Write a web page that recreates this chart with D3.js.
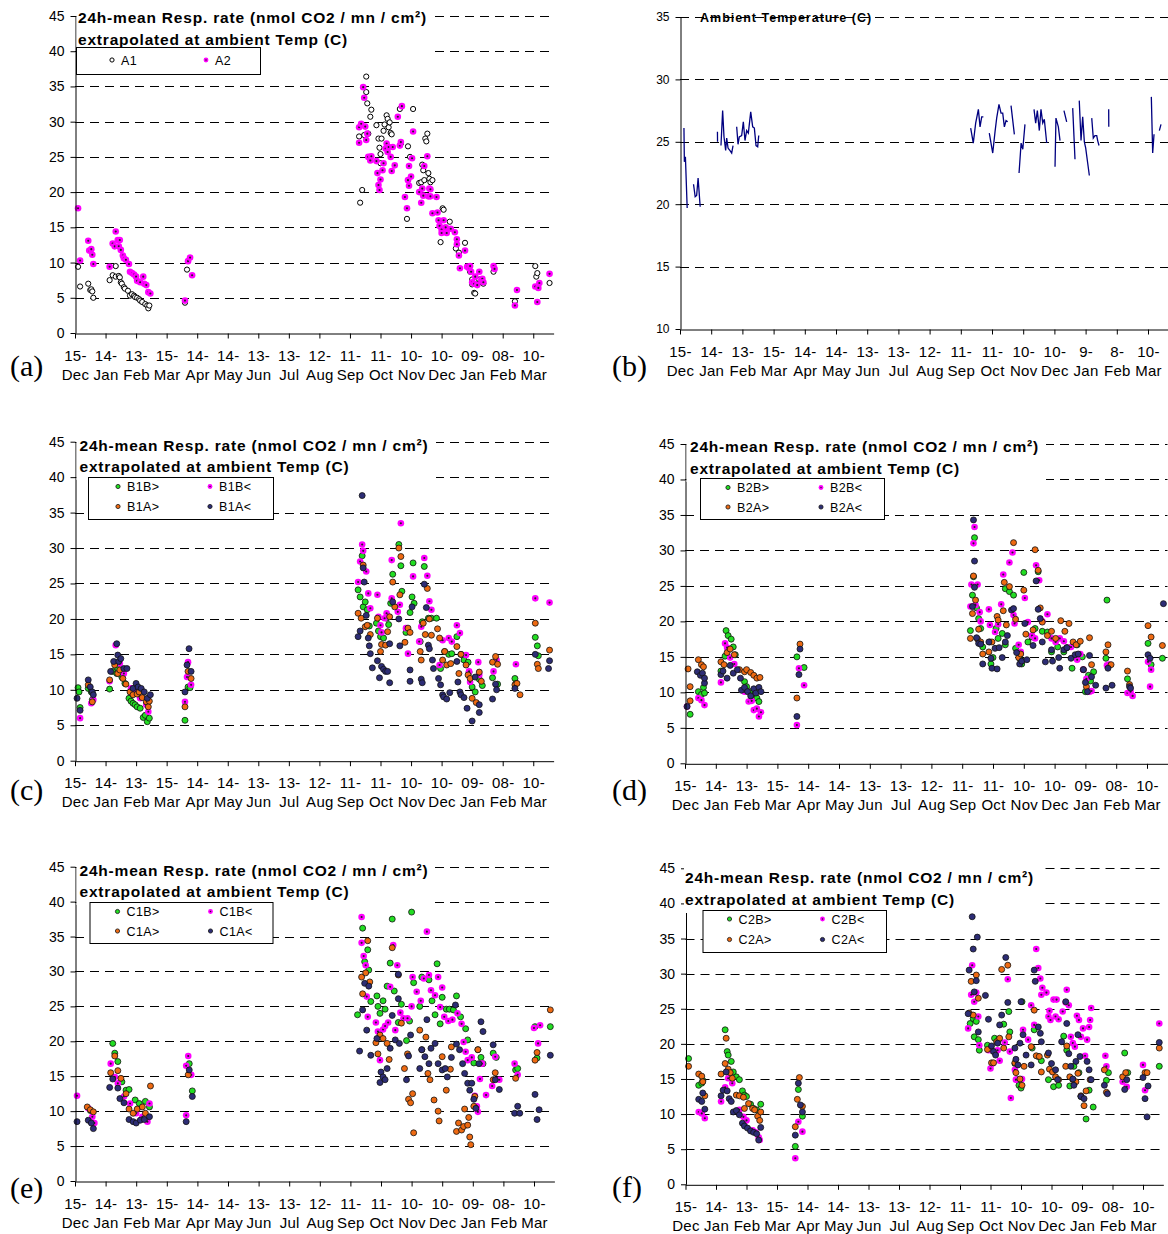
<!DOCTYPE html>
<html>
<head>
<meta charset="utf-8">
<script src="https://cdn.jsdelivr.net/npm/d3@7"></script>
<style>
  body { margin: 0; background: #fff; }
  svg { display: block; }
  text { font-family: Arial, "Liberation Sans", sans-serif; fill: #000; }
</style>
</head>
<body>
<svg id="chart" width="1168" height="1234"></svg>
<script>
// days counted from 15-Dec-2004, values in nmol CO2 / mn / cm2
var a1 = [[3,9.4],[5,6.6],[13,7.0],[15,6.1],[16,6.2],[17,5.9],[18,5.0],[34,7.5],[37,8.2],[40,9.5],[40,8.0],[43,8.1],[44,7.9],[45,7.2],[46,7.0],[48,6.5],[49,6.3],[52,6.0],[54,5.3],[56,5.5],[58,5.3],[59,5.1],[61,5.0],[63,4.8],[64,4.6],[66,4.4],[69,4.1],[71,3.9],[72,3.5],[73,3.9],[108,4.3],[110,9.0],[279,27.9],[280,18.5],[282,20.3],[284,28.1],[286,36.4],[286,34.2],[287,32.6],[288,28.3],[290,30.7],[291,31.7],[296,29.5],[298,27.6],[299,26.3],[300,25.4],[300,24.1],[301,27.6],[303,28.7],[304,29.6],[306,30.9],[307,30.4],[308,29.2],[309,29.9],[310,28.4],[311,28.2],[319,31.8],[320,26.9],[326,16.2],[327,26.5],[329,25.0],[332,31.8],[338,21.3],[340,21.4],[341,23.9],[342,23.1],[343,21.7],[344,27.6],[345,27.2],[346,28.3],[347,22.7],[348,21.9],[349,21.4],[351,21.7],[359,12.9],[361,17.7],[362,17.5],[368,15.8],[374,12.0],[377,11.4],[383,12.8],[388,8.7],[390,7.6],[390,6.9],[392,5.7],[393,5.6],[396,7.1],[397,7.6],[399,7.2],[401,7.0],[411,8.7],[432,4.5],[452,9.5],[453,8.0],[454,8.5],[466,7.1]];
var a2 = [[3,17.7],[5,10.3],[13,13.1],[14,11.7],[16,11.9],[17,11.1],[18,9.8],[34,9.4],[37,12.7],[40,14.4],[39,12.3],[42,13.2],[44,13.2],[43,12.3],[45,11.8],[47,11.0],[48,10.6],[50,10.4],[53,9.8],[54,8.7],[56,8.5],[58,8.3],[60,8.0],[61,7.4],[64,7.2],[67,8.0],[68,7.0],[70,6.8],[72,5.8],[74,5.6],[108,4.6],[111,10.2],[113,10.7],[115,8.2],[279,27.0],[279,29.2],[281,29.7],[283,34.9],[284,33.4],[285,29.3],[286,27.4],[287,28.3],[288,25.0],[290,24.5],[291,25.1],[296,24.4],[297,22.7],[298,21.0],[299,20.3],[300,21.8],[302,23.1],[303,24.1],[305,26.2],[306,26.9],[307,25.7],[308,26.4],[310,25.0],[311,23.0],[312,26.4],[314,23.8],[317,30.7],[319,26.6],[320,27.1],[321,32.2],[324,19.3],[326,17.7],[327,21.7],[328,23.7],[328,20.9],[330,22.2],[331,24.8],[332,28.6],[338,20.0],[340,18.5],[341,20.5],[342,19.5],[343,23.7],[346,25.1],[347,19.4],[348,20.5],[349,20.4],[349,19.4],[355,19.3],[351,17.0],[356,17.1],[357,16.0],[358,15.2],[360,14.7],[360,14.2],[362,16.0],[364,15.0],[365,14.2],[369,14.8],[373,14.3],[375,13.3],[375,12.6],[377,11.0],[378,9.2],[383,11.7],[385,9.4],[387,9.2],[388,9.5],[389,8.7],[390,7.2],[392,7.0],[393,8.0],[395,6.8],[397,8.7],[399,7.5],[400,7.7],[401,7.2],[411,9.5],[412,9.1],[432,3.9],[434,6.1],[452,6.6],[454,4.4],[455,6.4],[456,7.1],[466,8.4]];

// ambient temperature (C), null = gap in record
var tempC = [[3.8,26.1],[4.2,23.4],[5.2,23.8],[6.9,19.7],[7,null],[13,21.6],[14.6,20.6],[16,20.7],[17.4,22.1],[19.4,19.8],[20,null],[36,25.8],[36.1,25.0],[37,null],[39.4,24.7],[41,27.5],[42.3,25.4],[43.9,24.3],[44.9,25.3],[46.2,24.5],[48.1,24.3],[49.7,24.1],[51,24.7],[52,null],[54.5,26.2],[55.8,24.8],[57,25.4],[59.3,25.5],[60.9,26.6],[62.5,25.1],[64.1,25.9],[65.7,25.7],[68,27.4],[69.9,26.2],[71.5,26.1],[73.1,24.7],[74.7,24.6],[75.7,25.5],[76,null],[279.5,26.1],[282,24.9],[284.3,26.5],[286.9,27.6],[288.5,26.2],[290.1,27.0],[291.7,27.0],[292,null],[297.4,25.7],[300.7,24.1],[302.9,25.8],[304.5,26.9],[306.7,28.0],[308.7,27.3],[310.3,27.3],[311.9,26.2],[313.5,26.7],[315.1,26.6],[316,null],[318.3,27.9],[321.5,25.6],[322,null],[326,22.5],[328,24.9],[329.6,24.4],[331.7,26.4],[332,null],[340.4,27.6],[342,26.5],[343.6,27.5],[345.5,25.9],[347.1,27.6],[348.8,26.5],[350.3,26.8],[352.6,24.9],[353,null],[360.6,23.0],[361.5,26.9],[363.8,26.2],[365.4,25.1],[366,null],[369.2,27.5],[371.8,26.6],[372,null],[377.6,27.7],[379.8,23.6],[380,null],[383.9,28.3],[385.6,25.1],[387.2,27.0],[388.8,25.0],[390.1,24.5],[392,23.3],[393.6,22.3],[394,null],[395.9,26.9],[397.4,25.3],[399,25.5],[400.7,25.5],[401.6,25.1],[402.9,24.7],[403,null],[412.2,27.6],[412.3,26.2],[413,null],[453.2,28.6],[454.5,24.1],[455.8,25.6],[456,null],[460.9,25.9],[462.5,26.4]];

var b1bGt = [[3,10.3],[4,9.7],[5,7.5],[13,10.2],[16,9.7],[17,8.6],[34,10.1],[37,12.6],[41,12.3],[42,13.0],[46,11.8],[49,10.9],[53,8.8],[55,8.4],[57,8.1],[59,7.9],[61,7.6],[64,7.4],[67,6.1],[69,6.4],[71,5.5],[73,6.0],[108,5.7],[111,10.4],[113,10.3],[278,24.1],[280,23.1],[282,28.9],[283,21.7],[285,22.4],[287,21.3],[289,19.0],[296,19.4],[298,18.3],[300,17.5],[303,17.3],[306,20.1],[308,19.2],[310,22.2],[312,26.3],[318,30.5],[320,27.5],[321,23.9],[325,18.1],[329,20.9],[331,23.1],[332,27.9],[333,22.2],[339,16.8],[341,19.6],[343,27.4],[347,20.1],[350,20.1],[355,20.1],[359,13.0],[363,15.4],[367,15.0],[370,15.1],[375,17.5],[379,15.0],[382,14.2],[386,13.9],[387,12.5],[390,10.4],[393,9.7],[397,11.5],[400,10.6],[410,11.7],[415,10.8],[432,11.6],[433,10.9],[452,17.4],[454,16.2],[455,14.8]];
var b1bLt = [[5,6.0],[16,8.1],[18,8.6],[34,11.2],[40,16.3],[44,13.7],[48,12.3],[55,10.2],[60,9.7],[64,8.8],[70,7.9],[72,6.9],[108,8.3],[110,11.8],[111,13.9],[114,10.7],[278,25.2],[280,28.1],[282,30.5],[283,29.6],[286,26.7],[288,23.6],[290,21.5],[297,23.4],[298,20.3],[300,19.1],[301,18.1],[304,20.1],[306,20.8],[311,22.9],[311,28.3],[317,21.0],[319,22.0],[320,33.5],[325,18.7],[327,15.1],[332,26.0],[338,16.8],[340,18.9],[343,28.6],[346,26.1],[348,22.5],[350,21.3],[358,13.5],[361,17.0],[367,17.3],[370,16.8],[375,19.1],[378,18.0],[384,14.9],[387,12.6],[388,11.1],[396,13.9],[397,12.1],[411,12.6],[414,14.2],[433,13.6],[452,22.9],[466,22.3]];
var b1aGt = [[13,10.7],[17,8.3],[34,11.4],[39,13.5],[42,12.3],[44,12.8],[47,11.6],[50,10.8],[54,9.7],[57,9.3],[61,9.4],[63,9.7],[66,8.9],[70,8.3],[72,7.6],[73,8.4],[108,7.6],[111,12.6],[114,11.6],[278,20.8],[281,20.1],[283,27.6],[285,18.9],[287,19.1],[290,17.8],[297,20.1],[300,15.4],[301,16.4],[305,16.3],[307,18.2],[309,20.3],[312,25.2],[314,21.7],[318,30.0],[320,28.8],[319,23.4],[324,16.7],[327,18.7],[329,18.1],[339,15.4],[340,14.2],[342,19.4],[344,17.8],[346,24.3],[348,20.0],[350,17.7],[356,18.6],[358,17.3],[361,14.2],[363,15.4],[365,13.5],[369,13.7],[375,16.1],[377,12.3],[379,15.0],[384,13.5],[386,12.1],[388,11.6],[390,8.8],[394,8.2],[397,12.5],[399,11.2],[410,13.9],[413,14.7],[415,13.6],[432,10.7],[434,10.9],[437,9.3],[452,19.4],[454,13.6],[455,13.0],[466,15.6]];
var b1aLt = [[2,8.8],[5,7.1],[13,11.4],[15,10.4],[17,9.7],[18,9.3],[35,12.6],[38,14.0],[41,16.5],[42,14.9],[43,14.0],[45,14.4],[48,13.0],[51,13.0],[57,10.2],[60,10.9],[62,10.4],[65,10.2],[68,9.7],[71,8.8],[74,9.3],[108,9.7],[110,13.5],[112,15.8],[114,12.6],[278,17.5],[280,18.3],[282,37.4],[283,27.2],[284,25.2],[286,20.5],[288,17.3],[289,16.2],[290,15.1],[292,13.1],[297,14.1],[299,11.7],[301,13.3],[303,12.9],[305,12.6],[307,12.6],[309,16.5],[309,11.0],[312,22.4],[318,20.0],[319,16.2],[329,12.8],[329,11.2],[331,21.7],[340,11.5],[341,11.0],[343,24.9],[345,21.6],[347,16.3],[348,15.8],[351,14.2],[352,13.0],[357,11.6],[359,10.7],[361,9.3],[362,9.0],[365,8.7],[368,9.6],[375,14.0],[376,11.1],[378,9.7],[379,9.3],[382,8.9],[385,7.4],[390,5.6],[393,11.8],[397,7.9],[397,6.8],[410,8.7],[413,10.8],[414,10.0],[432,10.2],[452,15.0],[466,14.1],[465,13.0]];

var b2bGt = [[5,6.9],[13,10.1],[16,9.7],[18,10.7],[19,9.9],[35,13.0],[39,15.1],[40,18.7],[42,18.0],[45,17.5],[47,16.4],[49,15.3],[58,11.5],[60,10.8],[64,10.1],[67,9.6],[70,9.2],[72,8.7],[109,15.0],[116,13.5],[278,18.7],[280,23.7],[281,26.3],[282,31.8],[284,21.9],[286,20.4],[288,19.0],[290,16.4],[297,17.1],[298,14.0],[300,14.9],[303,19.0],[305,17.6],[309,18.3],[312,24.6],[312,16.7],[316,24.2],[320,23.7],[322,16.2],[326,14.8],[328,14.0],[330,26.9],[334,17.1],[338,17.8],[341,19.0],[344,27.0],[348,18.6],[353,18.5],[357,15.7],[363,16.4],[369,15.7],[372,16.3],[377,13.4],[382,16.7],[387,15.0],[390,10.1],[393,12.4],[395,11.6],[398,12.9],[410,14.8],[411,23.0],[431,11.9],[451,16.9],[454,13.9],[465,14.8]];
var b2bLt = [[2,8.0],[13,9.2],[16,8.9],[19,8.2],[35,11.4],[39,16.9],[41,16.3],[44,14.9],[48,14.0],[58,10.1],[62,8.7],[65,8.8],[67,7.5],[70,7.7],[72,6.6],[74,7.2],[109,5.4],[111,13.4],[116,11.0],[278,22.1],[279,25.2],[281,31.0],[282,33.3],[283,22.3],[285,25.2],[287,21.3],[288,20.0],[296,21.7],[297,19.5],[302,18.5],[305,19.6],[308,22.4],[310,26.6],[316,28.3],[319,29.7],[320,20.9],[321,19.7],[325,16.7],[327,15.7],[331,23.3],[334,19.9],[338,18.0],[341,17.6],[342,27.9],[345,25.8],[348,20.0],[353,21.0],[357,17.6],[361,17.1],[365,17.6],[369,17.2],[376,16.4],[382,14.6],[385,15.4],[388,13.2],[391,11.9],[394,10.1],[396,10.2],[411,13.8],[413,13.9],[431,9.9],[434,10.1],[436,9.5],[451,14.3],[453,10.8],[454,13.2]];
var b2aGt = [[3,13.3],[5,10.8],[5,8.8],[13,14.6],[16,13.9],[18,13.6],[35,14.3],[38,13.9],[41,15.6],[44,16.1],[48,15.3],[53,13.2],[58,12.9],[60,13.2],[64,12.8],[67,12.4],[70,12.0],[73,12.1],[109,9.2],[112,16.8],[278,17.6],[280,21.1],[281,26.4],[283,23.0],[285,17.5],[286,18.9],[288,17.1],[290,15.4],[296,15.7],[299,17.1],[304,20.7],[305,20.2],[310,21.5],[311,25.5],[313,19.5],[316,24.9],[320,31.1],[322,20.3],[325,14.9],[327,15.4],[330,24.4],[332,18.2],[339,18.8],[341,30.1],[344,27.2],[346,21.9],[348,19.9],[353,18.0],[357,18.6],[361,17.6],[366,20.1],[370,18.6],[374,19.7],[378,17.1],[381,16.7],[385,17.2],[388,13.2],[391,10.8],[394,17.7],[396,13.9],[410,15.7],[412,16.7],[415,13.9],[431,13.0],[433,11.1],[451,19.4],[454,17.8],[465,16.6]];
var b2aLt = [[2,8.0],[12,12.9],[15,12.4],[17,12.7],[19,11.3],[19,12.0],[35,12.5],[37,13.0],[41,12.0],[44,13.8],[47,12.7],[51,13.2],[54,12.0],[55,10.3],[58,10.7],[61,10.1],[64,9.5],[67,10.5],[69,9.9],[72,10.7],[74,10.1],[109,6.6],[111,12.5],[112,16.1],[280,22.1],[281,34.3],[282,28.5],[282,24.8],[284,17.7],[286,16.9],[288,16.8],[290,14.0],[296,17.1],[298,14.8],[299,13.4],[302,16.2],[304,13.3],[306,16.3],[309,14.9],[312,17.1],[314,18.0],[318,21.6],[320,21.8],[323,15.6],[326,14.0],[328,14.4],[331,19.7],[333,14.6],[339,16.6],[342,25.7],[344,21.7],[346,20.4],[348,17.1],[351,14.3],[357,16.0],[358,14.4],[364,14.9],[365,13.4],[369,16.0],[372,16.3],[376,14.8],[380,15.3],[383,15.4],[388,13.2],[390,11.4],[392,10.1],[394,15.2],[396,12.2],[400,11.0],[410,10.6],[412,13.4],[416,11.0],[433,10.8],[434,10.6],[451,15.3],[453,14.8],[466,22.5]];

var c1bGt = [[15,10.1],[37,19.7],[39,18.3],[42,17.1],[46,14.2],[50,13.0],[53,13.1],[59,11.6],[63,11.1],[69,11.4],[73,10.6],[112,16.8],[115,12.9],[277,23.8],[282,36.2],[284,31.4],[287,33.1],[288,30.2],[290,25.7],[296,26.5],[297,25.0],[299,24.0],[302,25.8],[304,24.6],[306,27.9],[309,31.2],[311,37.5],[313,27.2],[317,22.7],[320,25.3],[325,20.1],[328,22.9],[330,38.5],[332,28.4],[338,25.0],[340,29.2],[347,28.8],[350,25.8],[353,23.8],[355,31.1],[358,22.5],[360,26.3],[364,24.6],[367,24.6],[371,24.5],[374,26.5],[378,23.5],[383,21.8],[385,20.2],[391,16.9],[395,18.8],[398,17.7],[400,16.8],[410,18.3],[413,17.7],[432,15.9],[434,16.1],[451,22.1],[453,17.6],[466,22.1]];
var c1bLt = [[2,12.2],[13,10.4],[17,9.2],[19,8.3],[35,16.8],[39,14.9],[42,14.0],[48,12.1],[54,11.1],[60,9.7],[66,9.2],[71,8.5],[73,11.1],[109,16.5],[111,17.9],[114,15.2],[109,9.4],[281,37.8],[281,34.1],[283,32.2],[285,30.9],[286,26.4],[287,23.5],[295,22.7],[297,21.4],[299,17.3],[302,21.7],[304,22.2],[307,22.7],[309,27.8],[312,33.8],[314,21.6],[316,30.9],[319,24.1],[322,23.3],[326,23.3],[330,25.0],[331,29.2],[335,27.1],[339,25.8],[342,29.0],[345,35.7],[347,29.5],[349,27.3],[353,26.6],[356,29.2],[358,24.9],[360,27.7],[362,23.5],[366,22.9],[370,23.1],[375,24.0],[379,22.5],[381,19.9],[383,18.5],[385,17.3],[389,17.7],[392,12.2],[394,10.7],[395,9.9],[397,14.6],[399,16.8],[403,12.3],[409,13.6],[412,17.8],[416,14.5],[431,16.8],[434,15.2],[450,21.9],[454,19.7],[456,22.3]];
var c1aGt = [[12,10.6],[15,10.2],[18,9.9],[35,15.5],[39,17.9],[42,15.8],[45,14.7],[50,12.5],[53,10.3],[57,9.7],[61,10.3],[66,10.6],[69,9.7],[74,13.6],[111,15.2],[281,29.2],[282,26.8],[285,29.8],[287,34.4],[289,28.5],[295,19.8],[297,18.2],[299,20.9],[302,20.4],[306,19.7],[308,17.4],[311,33.4],[317,29.5],[320,22.6],[323,16.1],[326,18.2],[327,11.7],[329,11.2],[331,12.5],[332,6.9],[338,21.6],[340,18.8],[344,20.6],[346,15.4],[348,14.5],[352,11.6],[356,10.0],[357,8.6],[360,17.8],[364,13.0],[368,16.0],[369,19.2],[374,7.1],[376,8.3],[379,7.3],[381,7.8],[382,10.3],[385,8.0],[386,9.1],[387,6.3],[388,5.2],[391,10.7],[392,12.1],[395,18.8],[410,14.5],[412,15.5],[432,14.7],[451,17.3],[453,18.4],[466,24.5]];
var c1aLt = [[2,8.5],[13,8.7],[16,8.3],[18,7.5],[34,13.4],[37,14.6],[42,13.3],[44,11.8],[48,11.2],[53,8.8],[57,8.5],[60,8.3],[64,8.7],[68,8.8],[73,9.2],[109,8.5],[112,15.9],[115,12.1],[279,18.6],[282,24.5],[284,28.3],[286,21.6],[288,27.9],[290,18.0],[296,20.4],[299,14.1],[300,15.6],[302,14.9],[304,14.5],[306,16.1],[309,19.0],[311,23.7],[314,20.2],[317,29.6],[317,26.1],[318,19.7],[325,14.5],[327,17.9],[329,20.9],[338,16.1],[340,18.8],[343,17.8],[345,23.1],[347,16.8],[349,19.0],[353,19.7],[356,16.8],[360,15.9],[363,16.1],[365,14.9],[369,17.7],[373,25.2],[374,19.6],[377,18.8],[380,16.8],[382,15.4],[385,14.0],[387,13.0],[389,14.0],[391,11.7],[393,10.4],[396,16.8],[398,22.8],[400,21.4],[410,19.5],[412,14.5],[416,13.1],[431,9.7],[434,10.7],[436,9.7],[451,12.4],[453,8.8],[455,10.2],[466,18.0]];

var c2bGt = [[3,17.9],[13,14.1],[16,14.4],[17,14.8],[39,22.0],[41,18.9],[42,18.4],[45,17.5],[47,16.0],[50,15.3],[53,14.9],[56,13.3],[58,12.7],[60,12.5],[64,11.4],[67,10.8],[70,10.6],[74,11.4],[108,5.4],[111,13.5],[115,9.7],[280,22.9],[283,23.6],[284,21.0],[286,23.2],[288,20.6],[289,19.1],[297,19.8],[301,19.1],[304,20.8],[308,20.6],[313,22.8],[318,24.6],[319,21.7],[324,17.2],[326,14.9],[328,14.1],[330,13.7],[331,26.0],[341,19.4],[343,22.0],[347,18.2],[350,17.6],[357,14.9],[362,13.9],[367,14.1],[372,21.1],[375,19.1],[378,14.0],[382,16.8],[387,15.9],[389,12.5],[394,9.3],[397,13.4],[401,11.0],[414,14.8],[416,15.9],[432,18.7],[435,15.9],[466,16.8]];
var c2bLt = [[13,10.3],[16,10.1],[19,9.4],[35,11.8],[39,13.8],[42,15.1],[46,14.4],[53,10.6],[57,9.6],[60,9.1],[66,7.7],[69,7.4],[72,6.7],[73,6.3],[108,3.7],[111,8.9],[115,7.5],[278,22.2],[281,27.0],[282,31.2],[284,26.0],[286,27.3],[288,23.9],[289,19.8],[298,19.1],[300,16.5],[302,17.2],[305,18.7],[307,19.1],[309,17.6],[314,20.2],[317,29.2],[319,18.9],[320,12.3],[324,16.3],[325,14.9],[331,15.0],[332,22.0],[337,20.6],[340,25.5],[343,22.7],[345,33.5],[347,30.8],[349,29.3],[350,27.0],[351,28.0],[355,27.3],[357,23.9],[358,24.7],[359,23.4],[362,26.3],[364,23.9],[365,26.3],[367,23.5],[371,24.6],[374,25.9],[375,27.7],[377,25.5],[379,21.0],[381,20.1],[383,19.6],[385,24.0],[387,23.4],[389,21.0],[391,22.2],[393,18.3],[395,20.6],[397,22.4],[399,25.1],[398,23.4],[413,18.3],[414,16.8],[430,14.6],[434,13.9],[450,17.0],[452,13.4],[466,22.9]];
var c2aGt = [[3,16.8],[13,15.7],[16,15.4],[17,14.6],[19,12.6],[35,15.7],[39,17.2],[40,20.8],[42,16.4],[44,15.9],[46,15.1],[50,12.7],[53,12.6],[57,12.4],[58,10.8],[62,11.5],[66,10.8],[68,10.6],[71,9.7],[73,9.1],[74,10.3],[108,8.2],[110,12.1],[112,15.2],[115,11.1],[279,24.4],[281,28.9],[283,24.1],[286,29.8],[288,26.5],[297,19.2],[301,17.3],[303,17.3],[306,20.3],[309,20.8],[313,19.4],[311,30.6],[317,31.2],[318,21.0],[324,17.3],[325,15.9],[329,15.0],[331,14.1],[333,16.8],[340,19.6],[343,24.8],[345,18.3],[348,18.2],[350,16.0],[356,18.4],[358,16.4],[361,16.0],[364,15.3],[367,14.9],[374,16.8],[375,19.7],[378,15.3],[381,14.9],[384,14.6],[386,15.8],[389,12.6],[392,11.2],[394,13.3],[398,14.9],[412,16.3],[414,13.1],[430,15.3],[433,15.9],[452,15.9],[454,15.9],[466,19.4]];
var c2aLt = [[13,12.1],[16,11.8],[17,13.0],[19,10.7],[35,12.6],[37,13.4],[40,16.0],[41,13.3],[43,12.2],[45,11.8],[47,10.3],[50,10.5],[53,9.9],[56,8.7],[58,8.3],[61,8.0],[64,7.6],[67,7.4],[70,7.2],[72,6.3],[74,8.1],[108,7.0],[111,14.4],[113,11.3],[115,10.3],[278,24.3],[279,30.5],[282,38.1],[283,33.5],[284,27.4],[286,29.0],[287,35.2],[288,21.7],[295,26.9],[298,23.5],[301,19.7],[303,18.9],[305,18.4],[307,20.1],[309,22.7],[311,24.1],[315,32.3],[317,25.9],[324,19.4],[325,17.8],[327,17.0],[329,20.1],[330,26.0],[332,21.3],[335,18.4],[340,17.0],[343,30.5],[344,28.9],[347,22.4],[349,21.5],[350,20.3],[357,18.7],[360,17.2],[364,16.3],[366,14.9],[370,20.3],[374,26.0],[375,22.9],[377,18.6],[379,16.8],[381,15.0],[382,14.1],[384,17.5],[386,21.3],[388,18.2],[389,12.5],[392,12.2],[395,17.5],[397,16.3],[399,14.9],[412,14.1],[415,12.9],[432,13.5],[434,14.9],[450,15.2],[452,12.2],[454,9.6],[455,14.0],[466,20.2]];

var respTicks = [0, 5, 10, 15, 20, 25, 30, 35, 40, 45];
var tempTicks = [10, 15, 20, 25, 30, 35];
var titleLines = ["24h-mean Resp. rate (nmol CO2 / mn / cm\u00b2)", "extrapolated at ambient Temp (C)"];

var svg = d3.select("#chart");
var start = Date.UTC(2004, 11, 15), DAY = 864e5;
function toDate(d) { return new Date(start + d * DAY); }
var tickDates = d3.range(0, 451, 30).map(toDate);

var colors = { green: "#22dd22", mag: "#ff00ff", orange: "#ee6a12", navy: "#2d2d75" };

function drawDot(sel, kind, r) {
    if (kind === "open") {
        sel.append("circle").attr("r", r).attr("fill", "#fff").attr("stroke", "#000").attr("stroke-width", 1);
    } else if (kind === "mag") {
        sel.append("circle").attr("r", r + 0.3).attr("fill", colors.mag);
        sel.append("circle").attr("r", r * 0.35).attr("fill", "#222");
    } else {
        sel.append("circle").attr("r", r).attr("fill", colors[kind]).attr("stroke", "#111").attr("stroke-width", 0.8);
    }
}

function panel(p) {
    var g = svg.append("g");
    var xr = p.left + p.step * 470 / 30;
    var x = d3.scaleUtc().domain([toDate(0), toDate(470)]).range([p.left, xr]);
    var y = d3.scaleLinear().domain(p.domain).range([p.bottom, p.top]);

    // dashed grid
    g.append("g").selectAll("line")
        .data(p.ticks.slice(1))
        .join("line")
        .attr("x1", p.left).attr("x2", xr)
        .attr("y1", function(d) { return Math.round(y(d)) + 0.5; })
        .attr("y2", function(d) { return Math.round(y(d)) + 0.5; })
        .attr("stroke", "#000")
        .attr("stroke-dasharray", "9,6");

    // data
    if (p.temp) {
        var line = d3.line()
            .defined(function(d) { return d[1] != null; })
            .x(function(d) { return x(toDate(d[0])); })
            .y(function(d) { return y(d[1]); });
        g.append("path").datum(p.temp)
            .attr("d", line)
            .attr("fill", "none")
            .attr("stroke", "#000080")
            .attr("stroke-width", 1.3);
    }
    (p.series || []).forEach(function(s) {
        g.append("g").selectAll("g")
            .data(s.data)
            .join("g")
            .attr("transform", function(d) { return "translate(" + x(toDate(d[0])) + "," + y(d[1]) + ")"; })
            .each(function() { drawDot(d3.select(this), s.kind, s.kind === "open" ? 2.6 : 3); });
    });

    // axes
    var yAxis = g.append("g")
        .attr("transform", "translate(" + (p.left + 0.5) + ",0)")
        .call(d3.axisLeft(y).tickValues(p.ticks).tickSize(5).tickSizeOuter(0).tickPadding(6));
    yAxis.attr("font-family", null).attr("font-size", null);
    yAxis.selectAll("text").style("font-size", p.yFont + "px");

    var xAxis = g.append("g")
        .attr("transform", "translate(0," + (p.bottom + 0.5) + ")")
        .call(d3.axisBottom(x).tickValues(tickDates).tickSize(5).tickSizeOuter(0).tickFormat(""));
    xAxis.selectAll(".tick").append("text")
        .attr("text-anchor", "middle")
        .style("font-size", "15px")
        .style("letter-spacing", "0.3px")
        .each(function(d) {
            var t = d3.select(this);
            t.append("tspan").attr("x", 0).attr("y", 27).text(d3.utcFormat(p.dayFmt)(d));
            t.append("tspan").attr("x", 0).attr("y", 46).text(d3.utcFormat("%b")(d));
        });
    g.selectAll(".domain").attr("stroke", "#000");

    // title
    if (p.bgRight) {
        g.append("rect")
            .attr("x", p.bgLeft).attr("y", p.top - 9)
            .attr("width", p.bgRight - p.bgLeft)
            .attr("height", p.bgBottom - p.top + 9)
            .attr("fill", "#fff");
    }
    p.title.forEach(function(t, i) {
        g.append("text")
            .attr("x", p.titleX).attr("y", p.titleY[i])
            .style("font-size", p.titleFont + "px")
            .style("font-weight", "bold")
            .style("letter-spacing", p.titleSpacing + "px")
            .text(t);
    });

    // legend
    if (p.legend) {
        var L = p.legend;
        var lg = g.append("g").attr("transform", "translate(" + L.x + "," + L.y + ")");
        lg.append("rect").attr("x", 0.5).attr("y", 0.5).attr("width", L.w).attr("height", L.h)
            .attr("fill", "#fff").attr("stroke", "#000");
        p.series.forEach(function(s, i) {
            var col = i % 2, row = Math.floor(i / 2);
            var cx = col ? L.c2 : L.c1, cy = L.rows[row];
            var m = lg.append("g").attr("transform", "translate(" + cx + "," + cy + ")");
            drawDot(m, s.kind, 2.1);
            lg.append("text").attr("x", cx + 9).attr("y", cy + 4.5)
                .style("font-size", "12.5px")
                .style("letter-spacing", "0.4px")
                .text(s.name);
        });
    }

    // panel letter
    g.append("text")
        .attr("x", p.letterX).attr("y", p.letterY)
        .style("font-family", "'Liberation Serif', 'Times New Roman', serif")
        .style("font-size", "30px")
        .text("(" + p.id + ")");
}

function respPanel(cfg, series) {
    cfg.domain = [0, 45];
    cfg.ticks = respTicks;
    cfg.yFont = 14;
    cfg.dayFmt = "%d-";
    cfg.title = titleLines;
    cfg.titleFont = 15.5;
    cfg.titleSpacing = 0.8;
    cfg.series = series;
    panel(cfg);
}

respPanel({id: "a", left: 75, step: 30.55, top: 16, bottom: 333,
    titleX: 78, titleY: [23, 45], bgLeft: 76.5, bgRight: 432, bgBottom: 55,
    legend: {x: 76, y: 47, w: 184, h: 27, c1: 36, c2: 130, rows: [13]},
    letterX: 10, letterY: 376},
    [{name: "A1", kind: "open", data: a1}, {name: "A2", kind: "mag", data: a2}]);

panel({id: "b", left: 680, step: 31.2, top: 17, bottom: 329, domain: [10, 35], ticks: tempTicks,
    yFont: 12, dayFmt: "%-d-", title: ["Ambient Temperature (C)"], titleX: 700, titleY: [21.5],
    titleFont: 12.5, titleSpacing: 1, temp: tempC, letterX: 612, letterY: 376});

respPanel({id: "c", left: 75, step: 30.55, top: 441.7, bottom: 760.7,
    titleX: 79.5, titleY: [451, 471.5], bgLeft: 76.5, bgRight: 436, bgBottom: 480,
    legend: {x: 88, y: 477, w: 185, h: 42, c1: 30, c2: 122, rows: [9.5, 29.5]},
    letterX: 10, letterY: 800},
    [{name: "B1B>", kind: "green", data: b1bGt}, {name: "B1B<", kind: "mag", data: b1bLt},
     {name: "B1A>", kind: "orange", data: b1aGt}, {name: "B1A<", kind: "navy", data: b1aLt}]);

respPanel({id: "d", left: 685, step: 30.8, top: 444, bottom: 763.3,
    titleX: 690, titleY: [451.5, 473.5], bgLeft: 686.5, bgRight: 1046, bgBottom: 482,
    legend: {x: 700, y: 478, w: 184, h: 41, c1: 28, c2: 121, rows: [9.5, 29]},
    letterX: 612, letterY: 800},
    [{name: "B2B>", kind: "green", data: b2bGt}, {name: "B2B<", kind: "mag", data: b2bLt},
     {name: "B2A>", kind: "orange", data: b2aGt}, {name: "B2A<", kind: "navy", data: b2aLt}]);

respPanel({id: "e", left: 75, step: 30.6, top: 866.7, bottom: 1181,
    titleX: 79.5, titleY: [876, 896.5], bgLeft: 76.5, bgRight: 435, bgBottom: 905,
    legend: {x: 89.5, y: 902, w: 183, h: 41, c1: 28, c2: 121, rows: [9.5, 29]},
    letterX: 10, letterY: 1198},
    [{name: "C1B>", kind: "green", data: c1bGt}, {name: "C1B<", kind: "mag", data: c1bLt},
     {name: "C1A>", kind: "orange", data: c1aGt}, {name: "C1A<", kind: "navy", data: c1aLt}]);

respPanel({id: "f", left: 685.5, step: 30.5, top: 868.3, bottom: 1184.3,
    titleX: 685, titleY: [883, 905], bgLeft: 684, bgRight: 1040, bgBottom: 913,
    legend: {x: 702.5, y: 910, w: 183.5, h: 42, c1: 27, c2: 120, rows: [9, 29.5]},
    letterX: 612, letterY: 1197},
    [{name: "C2B>", kind: "green", data: c2bGt}, {name: "C2B<", kind: "mag", data: c2bLt},
     {name: "C2A>", kind: "orange", data: c2aGt}, {name: "C2A<", kind: "navy", data: c2aLt}]);
</script>
</body>
</html>
